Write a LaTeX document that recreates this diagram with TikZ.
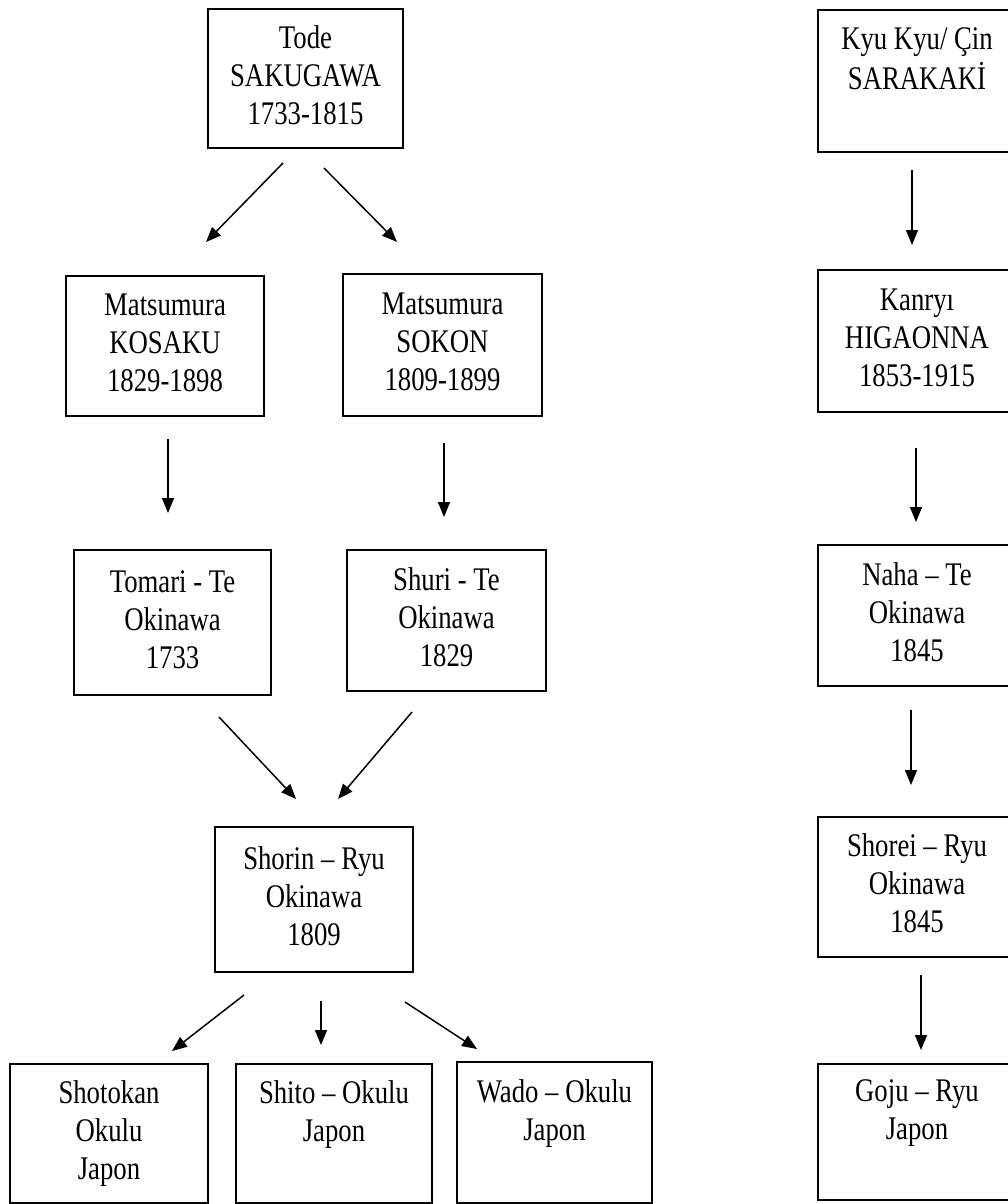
\documentclass[tikz,border=0pt]{standalone}
\usepackage{fontspec}
\setmainfont[FakeStretch=0.81]{Liberation Serif}
\usetikzlibrary{arrows.meta}
\tikzset{
  box/.style={draw, line width=1.5pt, rectangle, align=center, inner sep=0pt,
    font=\fontsize{33}{38}\selectfont, minimum width=#1},
  box/.default=198pt,
  conn/.style={line width=1.5pt, -{Triangle[length=15pt,width=12pt]}}
}
\begin{document}
\begin{tikzpicture}[x=1pt,y=-1pt]
\useasboundingbox (0,0) rectangle (1008,1204);
% left tree
\node[box=195pt, minimum height=139pt] (tode) at (305.5,78.5) {\strut Tode\\\strut SAKUGAWA\\\strut 1733-1815};
\node[box, minimum height=140pt] (kosaku) at (165,346) {\strut Matsumura\\\strut KOSAKU\\\strut 1829-1898};
\node[box=199pt, minimum height=142pt] (sokon) at (442.5,345) {\strut Matsumura\\\strut SOKON\\\strut 1809-1899};
\node[box=197pt, minimum height=145pt] (tomari) at (172.5,622.5) {\strut Tomari - Te\\\strut Okinawa\\\strut 1733};
\node[box=199pt, minimum height=141pt] (shuri) at (446.5,620.5) {\strut Shuri - Te\\\strut Okinawa\\\strut 1829};
\node[box, minimum height=145pt] (shorin) at (314,899.5) {\strut Shorin – Ryu\\\strut Okinawa\\\strut 1809};
\node[box, minimum height=139pt] (shotokan) at (109,1133.5) {\strut Shotokan\\\strut Okulu\\\strut Japon};
\node[box=196pt, minimum height=139pt] (shito) at (334,1133.5) {\strut Shito – Okulu\\\strut Japon\\\strut};
\node[box=195pt, minimum height=141pt] (wado) at (554.5,1132.5) {\strut Wado – Okulu\\\strut Japon\\\strut};
% right column
\node[box, minimum height=142pt] (kyu) at (917,81) {\strut Kyu Kyu/ Çin\\\strut SARAKAKİ\\\strut};
\node[box, minimum height=142pt] (kanryi) at (917,341) {\strut Kanryı\\\strut HIGAONNA\\\strut 1853-1915};
\node[box, minimum height=141pt] (naha) at (917,615.5) {\strut Naha – Te\\\strut Okinawa\\\strut 1845};
\node[box, minimum height=140pt] (shorei) at (917,887) {\strut Shorei – Ryu\\\strut Okinawa\\\strut 1845};
\node[box, minimum height=136pt] (goju) at (917,1132) {\strut Goju – Ryu\\\strut Japon\\\strut};
% arrow end points
\coordinate (a1s) at (283,163); \coordinate (a1e) at (206,242);
\coordinate (a2s) at (324,168); \coordinate (a2e) at (397,242);
\coordinate (a3s) at (168,439); \coordinate (a3e) at (168,513);
\coordinate (a4s) at (444,443); \coordinate (a4e) at (444,517);
\coordinate (a5s) at (219,717); \coordinate (a5e) at (296,799);
\coordinate (a6s) at (412,712); \coordinate (a6e) at (338,799);
\coordinate (a7s) at (244,995); \coordinate (a7e) at (172,1051);
\coordinate (a8s) at (321,1001); \coordinate (a8e) at (321,1045);
\coordinate (a9s) at (405,1002); \coordinate (a9e) at (477,1049);
\coordinate (b1s) at (912,170); \coordinate (b1e) at (912,245);
\coordinate (b2s) at (916,448); \coordinate (b2e) at (916,522);
\coordinate (b3s) at (911,710); \coordinate (b3e) at (911,785);
\coordinate (b4s) at (921,975); \coordinate (b4e) at (921,1050);
\foreach \s/\e in {a1s/a1e,a2s/a2e,a3s/a3e,a4s/a4e,a5s/a5e,a6s/a6e,a7s/a7e,a8s/a8e,a9s/a9e,b1s/b1e,b2s/b2e,b3s/b3e,b4s/b4e}
  \draw[conn] (\s) -- (\e);
\end{tikzpicture}
\end{document}
